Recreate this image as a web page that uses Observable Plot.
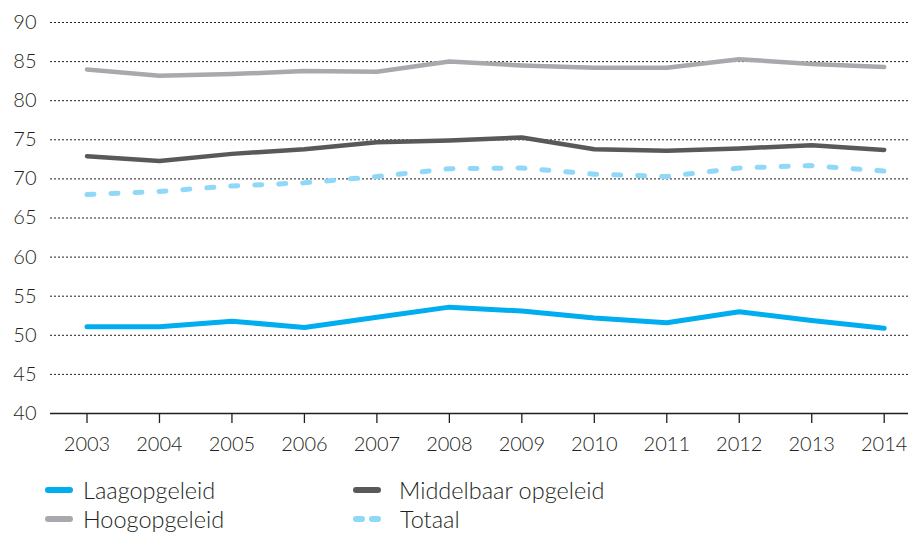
<!DOCTYPE html>
<html>
<head>
<meta charset="utf-8">
<script src="https://cdn.jsdelivr.net/npm/d3@7"></script>
<script src="https://cdn.jsdelivr.net/npm/@observablehq/plot@0.6"></script>
<style>
  html, body { margin: 0; padding: 0; background: #fff; }
  body { width: 908px; height: 534px; overflow: hidden; font-family: Lato, "Noto Sans", sans-serif; color: #231f20; font-weight: 300; }
  #legend { position: relative; height: 72px; font-size: 23.5px; }
  .item { position: absolute; display: flex; align-items: center; white-space: nowrap; line-height: 28px; }
  .item svg { display: block; }
</style>
</head>
<body>
<div id="chart"></div>
<div id="legend"></div>
<script>
const years = [2003, 2004, 2005, 2006, 2007, 2008, 2009, 2010, 2011, 2012, 2013, 2014];
const laagopgeleid = [51.1, 51.1, 51.8, 51.0, 52.3, 53.6, 53.1, 52.2, 51.6, 53.0, 51.9, 50.9];
const middelbaar   = [72.9, 72.3, 73.2, 73.8, 74.7, 74.9, 75.3, 73.8, 73.6, 73.9, 74.3, 73.7];
const hoogopgeleid = [84.0, 83.2, 83.4, 83.8, 83.7, 85.0, 84.5, 84.2, 84.2, 85.3, 84.7, 84.3];
const totaal       = [68.0, 68.4, 69.1, 69.5, 70.3, 71.3, 71.4, 70.6, 70.3, 71.4, 71.7, 71.0];
const yTicks = [40, 45, 50, 55, 60, 65, 70, 75, 80, 85, 90];
const seriesNames = ["Laagopgeleid", "Middelbaar opgeleid", "Hoogopgeleid", "Totaal"];
const seriesColors = ["#00aeef", "#58595b", "#a7a9ac", "#8fd8f8"];

const toRows = (vals, name) => years.map((y, i) => ({year: y, value: vals[i], series: name}));
const rowsLaag = toRows(laagopgeleid, seriesNames[0]);
const rowsMid = toRows(middelbaar, seriesNames[1]);
const rowsHoog = toRows(hoogopgeleid, seriesNames[2]);
const rowsTot = toRows(totaal, seriesNames[3]);

const textColor = "#231f20";

const chart = Plot.plot({
  width: 908,
  height: 462,
  marginLeft: 50,
  marginRight: 0,
  marginTop: 22,
  marginBottom: 49,
  style: {fontFamily: "Lato, 'Noto Sans', sans-serif", fontSize: "20px", fontWeight: 300, color: textColor, background: "#fff", overflow: "visible"},
  x: {type: "linear", domain: [2003, 2014], range: [86.5, 883.7]},
  y: {domain: [40, 90]},
  marks: [
    Plot.ruleY(yTicks.filter(d => d > 40), {stroke: textColor, strokeWidth: 1, strokeDasharray: "2,2"}),
    Plot.ruleY([40], {stroke: textColor, strokeWidth: 1.5}),
    Plot.axisY(yTicks, {tickSize: 0, tickPadding: 14, fontSize: 20, fill: textColor, label: null}),
    Plot.axisX(years, {tickSize: 10, tickPadding: 13, tickFormat: d => String(d), fontSize: 20, fill: textColor, stroke: textColor, strokeWidth: 1.3, label: null}),
    Plot.line(rowsHoog, {x: "year", y: "value", stroke: seriesColors[2], strokeWidth: 4.5, strokeLinecap: "round", strokeLinejoin: "round"}),
    Plot.line(rowsMid, {x: "year", y: "value", stroke: seriesColors[1], strokeWidth: 4.5, strokeLinecap: "round", strokeLinejoin: "round"}),
    Plot.line(rowsTot, {x: "year", y: "value", stroke: seriesColors[3], strokeWidth: 5, strokeDasharray: "7,17", strokeLinecap: "round", strokeLinejoin: "round"}),
    Plot.line(rowsLaag, {x: "year", y: "value", stroke: seriesColors[0], strokeWidth: 5, strokeLinecap: "round", strokeLinejoin: "round"})
  ]
});
document.getElementById("chart").appendChild(chart);

// Legend
const legend = document.getElementById("legend");
const positions = [
  {left: 45, top: 14, gap: 10},
  {left: 353, top: 14, gap: 18},
  {left: 45, top: 43, gap: 10},
  {left: 353, top: 43, gap: 9}
];
seriesNames.forEach((name, i) => {
  const p = positions[i];
  const item = document.createElement("div");
  item.className = "item";
  item.style.left = p.left + "px";
  item.style.top = p.top + "px";
  const dashed = name === "Totaal";
  const sw = dashed ? 38 : 28;
  item.innerHTML = `<svg width="${sw}" height="10"><line x1="3" y1="5" x2="${sw - 3}" y2="5" stroke="${seriesColors[i]}" stroke-width="6" stroke-linecap="round" ${dashed ? 'stroke-dasharray="6,10"' : ''}/></svg><span style="margin-left:${p.gap}px">${name}</span>`;
  legend.appendChild(item);
});
</script>
</body>
</html>
